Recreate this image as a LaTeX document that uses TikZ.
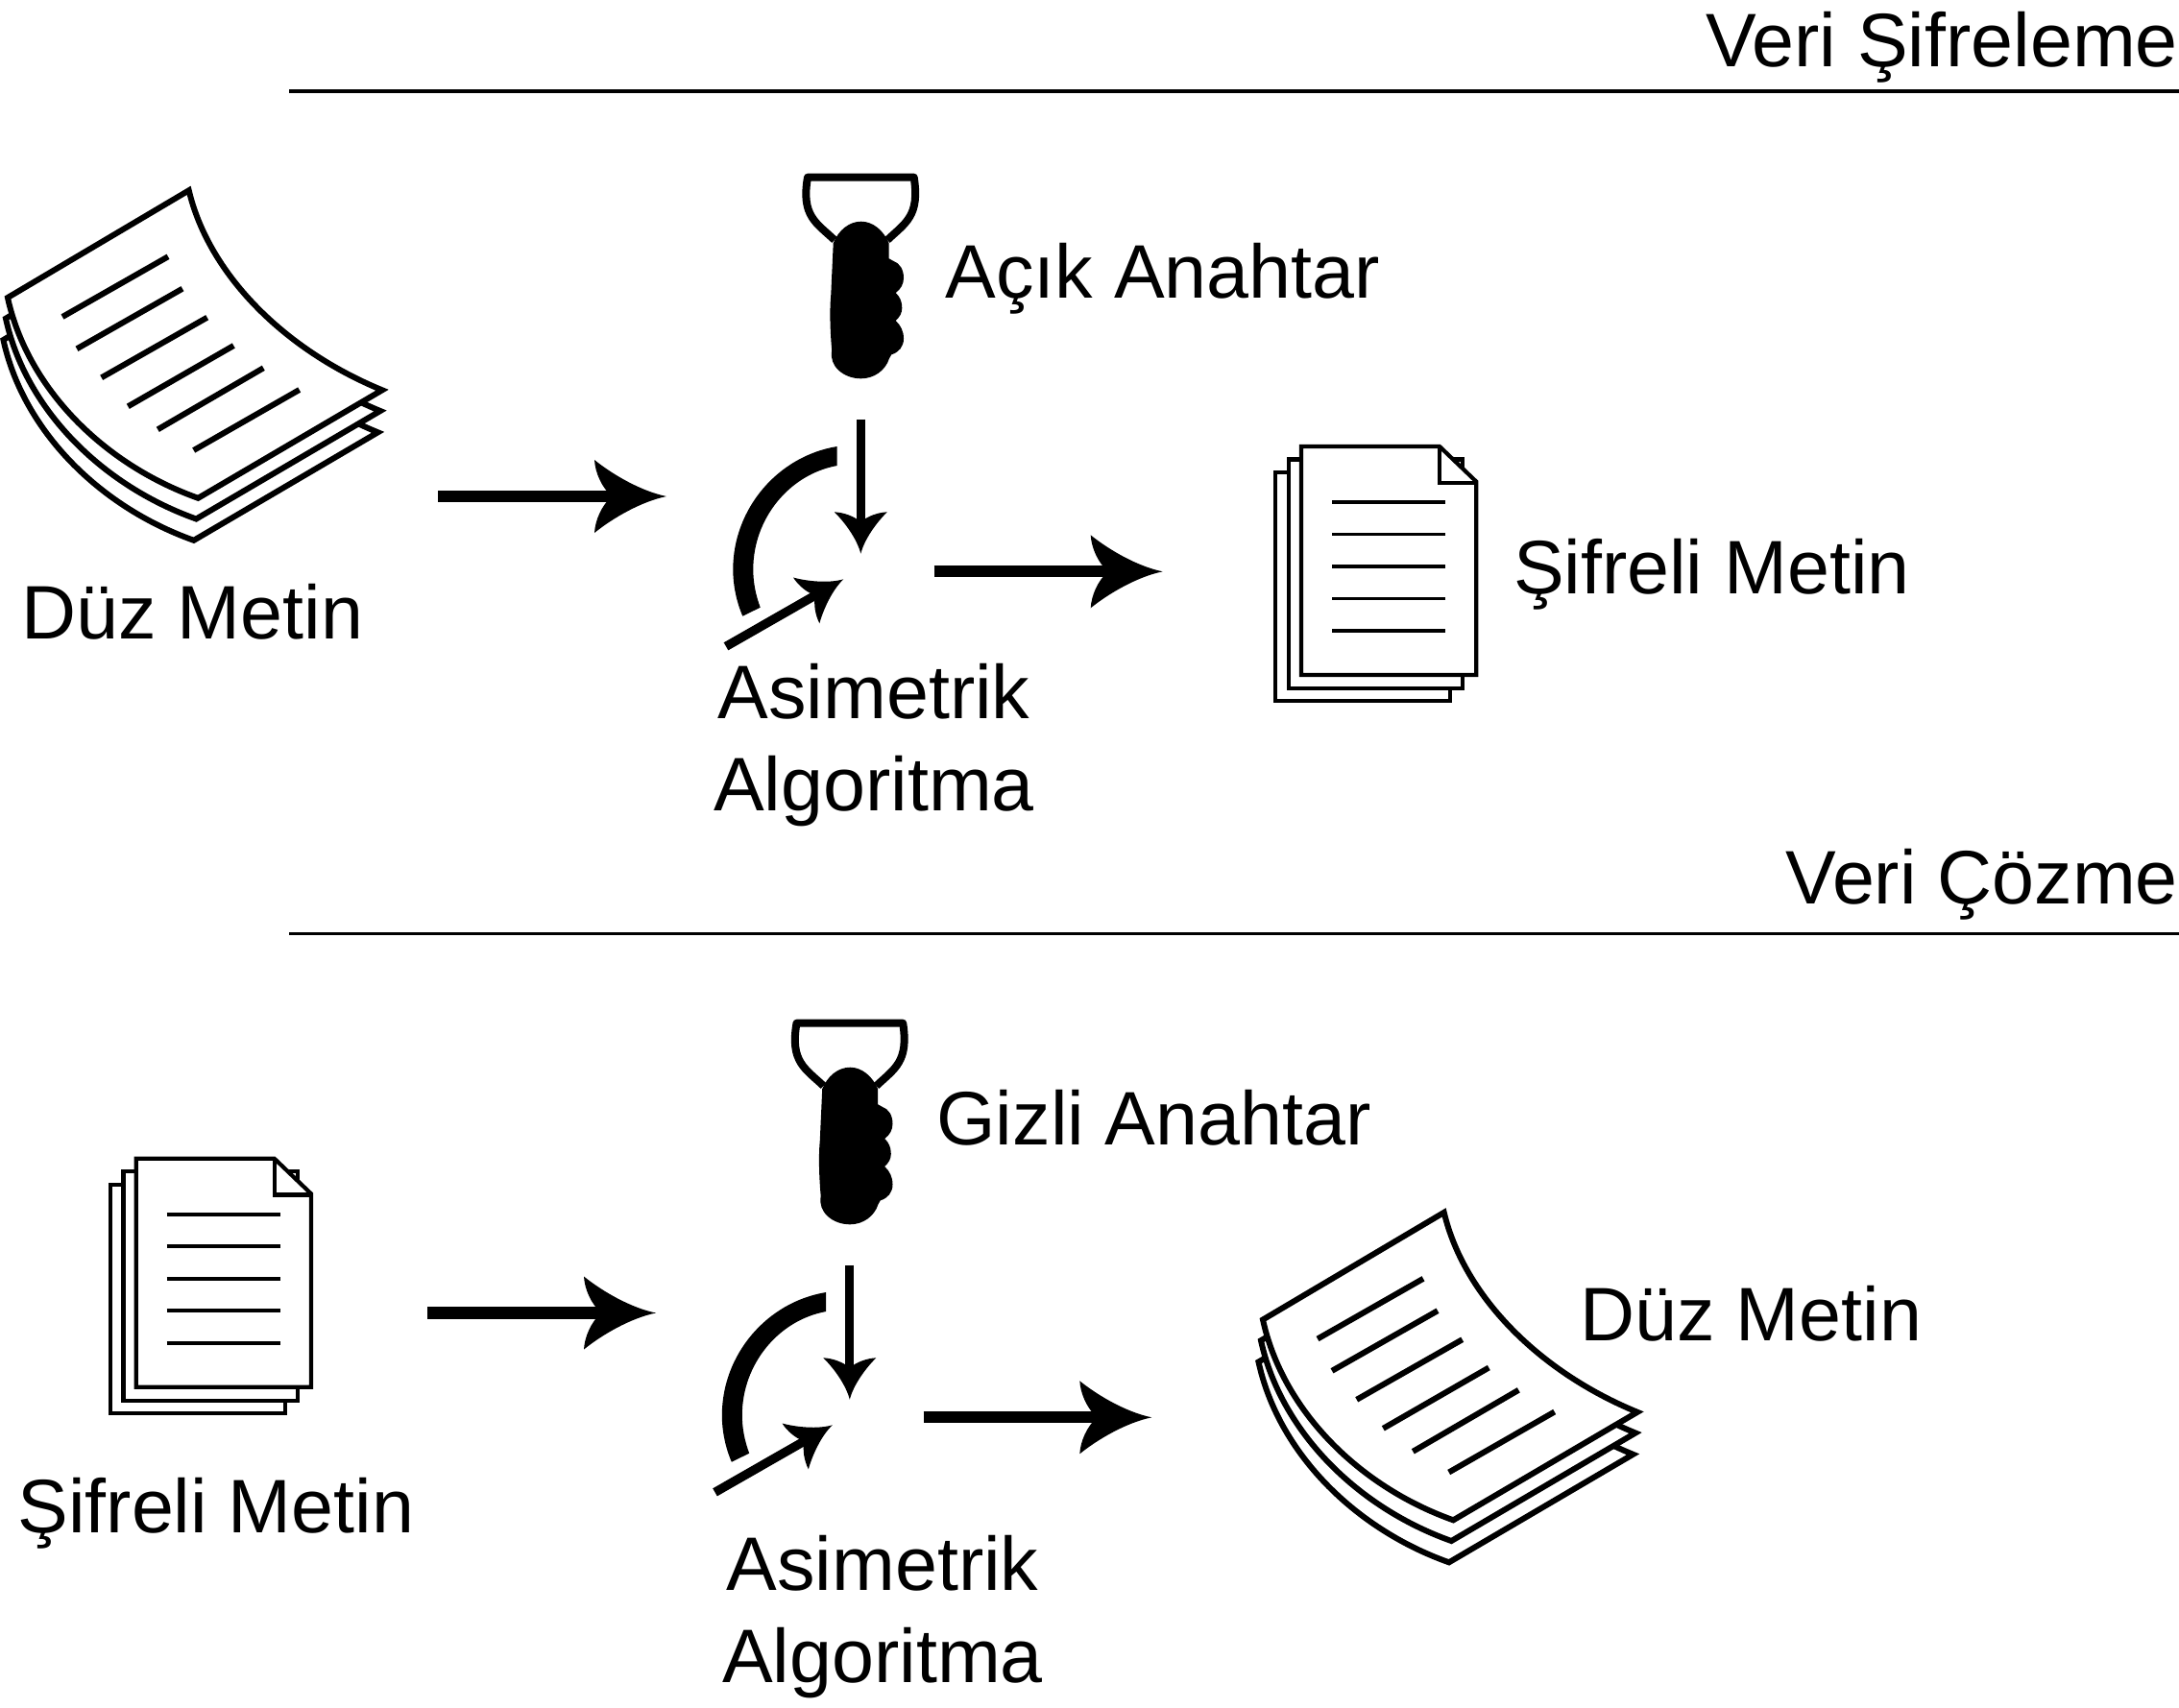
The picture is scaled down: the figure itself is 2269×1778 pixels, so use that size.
\documentclass[tikz,border=0pt]{standalone}
\usepackage{fontspec}
\setmainfont{Liberation Sans}
\usetikzlibrary{calc}
\tikzset{
  x=1pt,y=-1pt,
  label text/.style={inner sep=0pt,outer sep=0pt,font=\fontsize{79}{96}\selectfont,align=center},
  rule line/.style={line width=3.8pt},
  head/.pic={
    \fill (0,0) .. controls (-0.35,0.14) and (-0.75,0.6) .. (-1,1)
      .. controls (-0.99,0.65) and (-0.9,0.25) .. (-0.76,0)
      .. controls (-0.9,-0.25) and (-0.99,-0.65) .. (-1,-1)
      .. controls (-0.75,-0.6) and (-0.35,-0.14) .. (0,0) -- cycle;
  },
  pagesheet/.pic={
    \draw[line width=6pt,fill=white,miter limit=20] (196.7,198.3) -- (8,310)
      .. controls (28.3,403.3) and (106.7,483.3) .. (206.3,518.8)
      -- (398,406.3)
      .. controls (293.3,363.3) and (216.7,283.3) .. (196.7,198.3) -- cycle;
  },
  pages/.pic={
    \path (-4.5,44) pic {pagesheet};
    \path (-2,21.7) pic {pagesheet};
    \path (0,0) pic {pagesheet};
    \draw[line width=6pt]
      (65,330) -- (175,267.3)
      (80,363.3) -- (190,300.7)
      (105.7,393.3) -- (215.7,330.7)
      (133.3,423.3) -- (243.3,360)
      (164.3,447.3) -- (274.3,383.3)
      (201.7,469) -- (311.7,406);
  },
  docs/.pic={
    \draw[line width=4.2pt,fill=white] (1328.3,492) rectangle (1510,730);
    \draw[line width=4.2pt,fill=white] (1341.7,478.5) rectangle (1523.3,717);
    \draw[line width=4.2pt,fill=white,miter limit=20] (1355,465) -- (1499,465) -- (1537.3,501.7) -- (1537.3,703) -- (1355,703) -- cycle;
    \draw[line width=4.2pt] (1499,465) -- (1499,502.7) -- (1537.3,502.7);
    \draw[line width=3.8pt]
      (1387,523) -- (1505,523)
      (1387,556.5) -- (1505,556.5)
      (1387,590) -- (1505,590)
      (1387,623.5) -- (1505,623.5)
      (1387,657) -- (1505,657);
  },
  keyicon/.pic={
    \draw[line width=8pt,line join=round] (869,250)
      .. controls (850,232) and (834,225) .. (841,184.7)
      -- (951.7,184.7)
      .. controls (958,225) and (943,232) .. (924,250);
    \fill (867.7,253.3) .. controls (873,240) and (884,230.7) .. (896.7,230.7)
      .. controls (909,230.7) and (920,240) .. (925.7,253.3)
      -- (925.7,269.3) -- (930,271.7)
      .. controls (937,274) and (941,281) .. (941,289.3)
      .. controls (941,296) and (938,301) .. (932.7,305)
      .. controls (937,309) and (939.3,314) .. (939.3,320.7)
      .. controls (939.3,326) and (937,330) .. (932.7,334)
      .. controls (938,339) and (941,345) .. (941,352.7)
      .. controls (941,361) and (936,367) .. (928.3,369.3)
      -- (926,373.3)
      .. controls (922,386) and (910,394.3) .. (896.7,394.3)
      .. controls (878,394.3) and (863,381) .. (866.2,365)
      .. controls (864,340) and (864,320) .. (865.3,306.7)
      .. controls (866,290) and (867,270) .. (867.7,253.3) -- cycle;
  },
  algoarc/.pic={
    \fill (871.7,465) .. controls (810,475) and (763.3,530) .. (763.3,593)
      .. controls (763.3,610) and (767,627) .. (773.3,641.7)
      -- (791.7,632.7)
      .. controls (787,620) and (784.3,607) .. (784.3,593)
      .. controls (784.3,540) and (822,494) .. (871.7,485) -- cycle;
  },
}
\newcommand{\flowarrow}[5]{%
  \draw[line width=#3pt,shorten >=#4*0.7pt] (#1) -- (#2);
  \path (#1) -- (#2) pic[pos=1,sloped,allow upside down,xscale=#4,yscale=#5] {head};
}
\begin{document}
\begin{tikzpicture}
\useasboundingbox (0,0) rectangle (2269,1778);

% section rules and titles
\coordinate (ruleAa) at (301,94.8);
\coordinate (ruleAb) at (2269,94.8);
\coordinate (ruleBa) at (301,972.5);
\coordinate (ruleBb) at (2269,972.5);
\draw[rule line] (ruleAa) -- (ruleAb);
\draw[rule line] (ruleBa) -- (ruleBb);
\node[label text,anchor=base east] (titleA) at (2268,69) {Veri Şifreleme};
\node[label text,anchor=base east] (titleB) at (2268,941) {Veri Çözme};

% upper row
\path (0,0) pic {pages};
\path (0,0) pic {keyicon};
\path (0,0) pic {algoarc};
\path (0,0) pic {docs};
\node[label text,anchor=base west] (plainA) at (22.5,665) {Düz Metin};
\node[label text,anchor=base west] (pubkey) at (984.5,310) {Açık Anahtar};
\node[label text,anchor=base west] (cipherA) at (1576,618) {Şifreli Metin};
\node[label text,anchor=base] (algoA) at (910,844) {Asimetrik\\Algoritma};

\coordinate (a1s) at (456,517);
\coordinate (a1e) at (694,517);
\coordinate (a2s) at (972.7,595.3);
\coordinate (a2e) at (1210.7,595.3);
\coordinate (a3s) at (896.3,436.7);
\coordinate (a3e) at (896.3,576.7);
\coordinate (a4s) at (756,673.3);
\coordinate (a4e) at (878.3,603.3);
\flowarrow{a1s}{a1e}{12.3}{75}{38}
\flowarrow{a2s}{a2e}{12.3}{75}{38}
\flowarrow{a3s}{a3e}{9.3}{43.4}{27.5}
\flowarrow{a4s}{a4e}{9.3}{44.5}{27.5}

% lower row
\path (-1213.3,741.7) pic {docs};
\path (-11.5,881) pic {keyicon};
\path (-11.5,881) pic {algoarc};
\path (1307,1064.5) pic {pages};
\node[label text,anchor=base west] (cipherB) at (18.5,1596) {Şifreli Metin};
\node[label text,anchor=base west] (seckey) at (975.5,1192) {Gizli Anahtar};
\node[label text,anchor=base west] (plainB) at (1645.5,1396) {Düz Metin};
\node[label text,anchor=base] (algoB) at (919,1752) {Asimetrik\\Algoritma};

\coordinate (b1s) at (445,1367.5);
\coordinate (b1e) at (683,1367.5);
\coordinate (b2s) at (961.5,1476.3);
\coordinate (b2e) at (1199.3,1476.3);
\coordinate (b3s) at (884.8,1317.7);
\coordinate (b3e) at (884.8,1457.7);
\coordinate (b4s) at (744.5,1554.3);
\coordinate (b4e) at (866.8,1484.3);
\flowarrow{b1s}{b1e}{12.3}{75}{38}
\flowarrow{b2s}{b2e}{12.3}{75}{38}
\flowarrow{b3s}{b3e}{9.3}{43.4}{27.5}
\flowarrow{b4s}{b4e}{9.3}{44.5}{27.5}
\end{tikzpicture}
\end{document}
